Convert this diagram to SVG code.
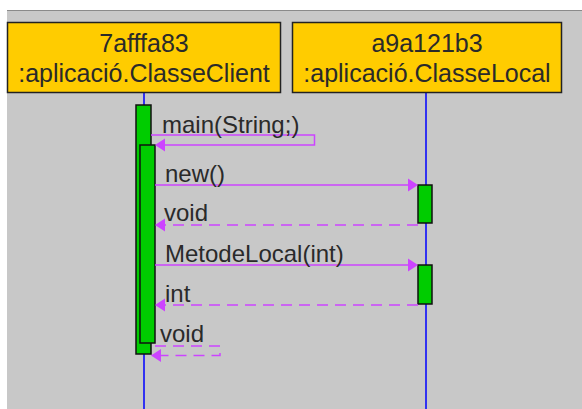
<svg xmlns="http://www.w3.org/2000/svg" width="582" height="409" viewBox="0 0 582 409">
<style>
text{font-family:"Liberation Sans",Arial,sans-serif;font-size:24px;fill:#2a2a2a}
.hd{text-anchor:middle;font-size:25px}
.box{fill:#ffcc00;stroke:#222;stroke-width:1.5}
.life{stroke:#0000ff;stroke-width:1.5}
.act{fill:#00cc00;stroke:#111;stroke-width:1.5}
.msg{fill:none;stroke:#cc44ff;stroke-width:1.5}
.ret{fill:none;stroke:#cc44ff;stroke-width:1.5;stroke-dasharray:11 7}
.ah{fill:#cc44ff}
</style>
<rect x="0" y="0" width="582" height="409" fill="#ffffff"/>
<rect x="7" y="10" width="575" height="399" fill="#c8c8c8"/>
<line x1="7" y1="10.5" x2="582" y2="10.5" stroke="#8a8a8a" stroke-width="1"/>
<g id="lifelines">
<line class="life" x1="144" y1="93" x2="144" y2="409"/>
<line class="life" x1="426" y1="93" x2="426" y2="409"/>
</g>
<g id="client">
<rect class="box" x="7.5" y="22.5" width="273" height="70"/>
<text class="hd" x="144" y="52">7afffa83</text>
<text class="hd" x="144" y="82">:aplicació.ClasseClient</text>
</g>
<g id="local">
<rect class="box" x="292.5" y="22.5" width="269" height="70"/>
<text class="hd" x="427" y="52">a9a121b3</text>
<text class="hd" x="427" y="82">:aplicació.ClasseLocal</text>
</g>
<g id="activations">
<rect class="act" x="136" y="105" width="15" height="249"/>
<rect class="act" x="140" y="145" width="15" height="198"/>
<rect class="act" x="418" y="185" width="14" height="38"/>
<rect class="act" x="418" y="265" width="14" height="39"/>
</g>
<g id="connectors">
<polyline class="msg" points="151,135 314.5,135 314.5,145 165,145"/>
<polygon class="ah" points="155,145 165,138.5 165,151.5"/>
<line class="msg" x1="155" y1="185" x2="408" y2="185"/>
<polygon class="ah" points="418,185 408,178.5 408,191.5"/>
<line class="ret" x1="418" y1="225" x2="165" y2="225"/>
<polygon class="ah" points="155,225 165,218.5 165,231.5"/>
<line class="msg" x1="155" y1="265" x2="408" y2="265"/>
<polygon class="ah" points="418,265 408,258.5 408,271.5"/>
<line class="ret" x1="418" y1="305" x2="165" y2="305"/>
<polygon class="ah" points="155,305 165,298.5 165,311.5"/>
<polyline class="ret" points="155,346 220,346 220,355.5 161,355.5"/>
<polygon class="ah" points="151,355.5 161,349 161,362"/>
</g>
<g id="labels">
<text x="162" y="133">main(String;)</text>
<text x="165" y="182">new()</text>
<text x="164" y="221">void</text>
<text x="165" y="262">MetodeLocal(int)</text>
<text x="165" y="302">int</text>
<text x="160" y="342">void</text>
</g>
</svg>
